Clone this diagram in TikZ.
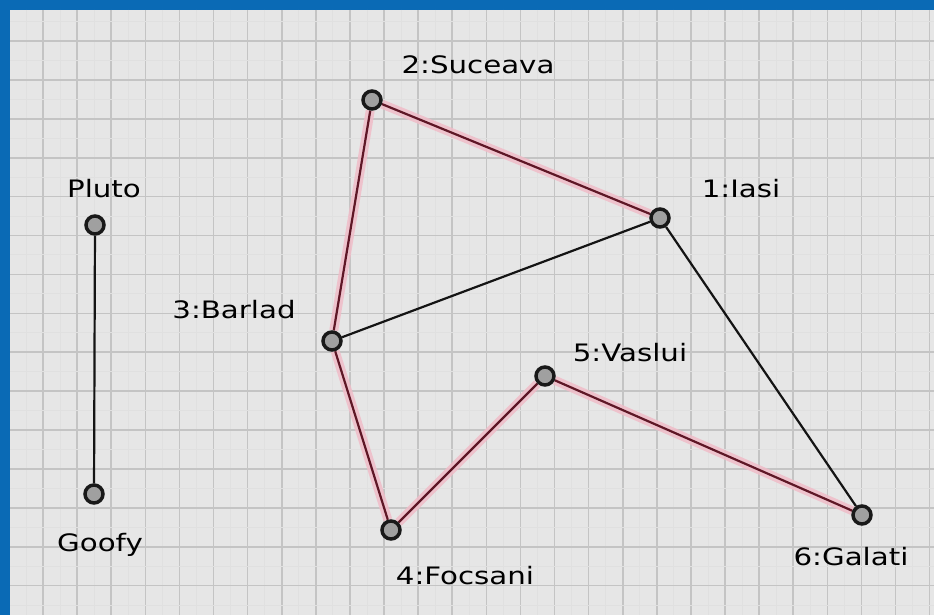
\documentclass[tikz,border=0pt]{standalone}
\usepackage{fontspec}
\setmainfont{DejaVu Sans}
\usepackage{graphicx}
\definecolor{framebl}{HTML}{0A6AB5}
\definecolor{paper}{HTML}{E6E6E6}
\definecolor{gridmain}{HTML}{C4C4C4}
\definecolor{gridfaint}{HTML}{E0E0E0}
\definecolor{redline}{HTML}{5E1726}
\definecolor{redhalo}{HTML}{F0BCC8}
\definecolor{vfill}{HTML}{A0A0A0}
\pgfdeclarelayer{grid}
\pgfdeclarelayer{edges}
\pgfsetlayers{grid,edges,main}
\tikzset{
  vert/.style={circle, draw=black!90, line width=3.5pt, fill=vfill, inner sep=0pt, minimum size=18pt},
  lbl/.style={anchor=base, inner sep=0pt, font=\fontsize{24}{24}\selectfont},
  blackedge/.style={draw=black!92, line width=2.2pt},
  rededge/.style={draw=redline, line width=2.2pt, preaction={draw=redhalo, line width=9pt, opacity=0.85}},
}
\newcommand{\wide}[1]{\scalebox{1.22}[1]{#1}}
\begin{document}
\begin{tikzpicture}[x=1pt,y=-1pt]
\useasboundingbox (0,0) rectangle (934,615);
\begin{pgfonlayer}{grid}
\fill[framebl] (0,0) rectangle (934,615);
\fill[paper] (10,10) rectangle (934,615);
\foreach \k in {0,...,27} {
  \draw[gridfaint, line width=1pt] ({26+34.1*\k},10) -- ({26+34.1*\k},615);
  \draw[gridmain, line width=1.6pt] ({43+34.1*\k},10) -- ({43+34.1*\k},615);
}
\foreach \k in {0,...,15} {
  \draw[gridfaint, line width=1pt] (10,{21.5+38.9*\k}) -- (934,{21.5+38.9*\k});
  \draw[gridmain, line width=1.6pt] (10,{41+38.9*\k}) -- (934,{41+38.9*\k});
}
\end{pgfonlayer}

% vertices
\node[vert] (pluto) at (95,225) {};
\node[vert] (goofy) at (94,494) {};
\node[vert] (suc) at (372,100) {};
\node[vert] (ias) at (660,218) {};
\node[vert] (bar) at (332,341) {};
\node[vert] (vas) at (545,376) {};
\node[vert] (foc) at (391,530) {};
\node[vert] (gal) at (862,515) {};

% labels
\node[lbl] (lpluto) at (104,197) {\wide{Pluto}};
\node[lbl] (lgoofy) at (100,551) {\wide{Goofy}};
\node[lbl] (lsuc) at (478,74) {\wide{2:Suceava}};
\node[lbl] (lias) at (741,197) {\wide{1:Iasi}};
\node[lbl] (lbar) at (234,318) {\wide{3:Barlad}};
\node[lbl] (lvas) at (630,361) {\wide{5:Vaslui}};
\node[lbl] (lfoc) at (465,584) {\wide{4:Focsani}};
\node[lbl] (lgal) at (851,565) {\wide{6:Galati}};

% edges
\begin{pgfonlayer}{edges}
\draw[blackedge] (pluto) -- (goofy);
\draw[blackedge] (bar) -- (ias);
\draw[blackedge] (ias) -- (gal);
\draw[rededge] (suc) -- (ias);
\draw[rededge] (suc) -- (bar);
\draw[rededge] (bar) -- (foc);
\draw[rededge] (foc) -- (vas);
\draw[rededge] (vas) -- (gal);
\end{pgfonlayer}
\end{tikzpicture}
\end{document}
